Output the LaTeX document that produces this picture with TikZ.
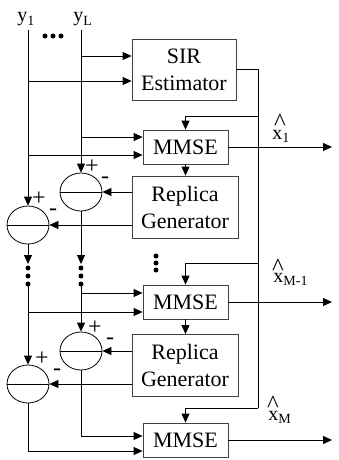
\documentclass[tikz,border=0pt]{standalone}
\usepackage{fontspec}
\setmainfont{Liberation Serif}
\usetikzlibrary{arrows.meta,shapes.geometric}
\begin{document}
\begin{tikzpicture}[x=1pt,y=-1pt,line width=0.8pt,
  box/.style={draw=black!75,rectangle,inner sep=0pt,align=center,font=\fontsize{22}{27}\selectfont},
  sirbox/.style={box,minimum width=104pt,minimum height=61pt},
  mmsebox/.style={box,minimum width=85pt,minimum height=34pt},
  repbox/.style={box,minimum width=106pt,minimum height=62pt},
  adder/.style={draw,ellipse,minimum width=42pt,minimum height=38pt,inner sep=0pt},
  arr/.style={-{Triangle[length=9pt,width=8pt]}},
  dotn/.style={circle,fill,inner sep=0pt,minimum size=5pt},
  lbl/.style={font=\fontsize{20}{20}\selectfont,inner sep=0pt,anchor=base west},
  hatn/.style={font=\fontsize{25}{25}\selectfont,inner sep=0pt},
  sgn/.style={font=\fontsize{24}{24}\selectfont,inner sep=0pt}]
\useasboundingbox (0,0) rectangle (338,460);

% boxes
\node[sirbox] (sir) at (184,69.5) {SIR\\Estimator};
\node[mmsebox] (m1) at (185.5,147) {MMSE};
\node[repbox] (r1) at (185,207) {Replica\\Generator};
\node[mmsebox] (m2) at (185.5,302) {MMSE};
\node[repbox] (r2) at (185,365.5) {Replica\\Generator};
\node[mmsebox] (m3) at (185.5,440) {MMSE};

% adders
\node[adder] (a1) at (81,192) {};
\node[adder] (a2) at (28,225) {};
\node[adder] (a3) at (81,351) {};
\node[adder] (a4) at (28,384) {};
\foreach \a in {a1,a2,a3,a4}{\draw (\a.west) -- (\a.east);}

% signs
\node[sgn] (p1) at (92,167) {+};
\node[sgn] (n1) at (105,180) {-};
\node[sgn] (p2) at (39,199) {+};
\node[sgn] (n2) at (53,212) {-};
\node[sgn] (p3) at (95,328) {+};
\node[sgn] (n3) at (110,341) {-};
\node[sgn] (p4) at (42,359) {+};
\node[sgn] (n4) at (57,372) {-};

% input labels
\node[lbl] (ly1) at (17,22) {y\textsubscript{1}};
\node[lbl] (lyL) at (73,22) {y\textsubscript{L}};
\node[dotn] (td1) at (45,36) {};
\node[dotn] (td2) at (53,36) {};
\node[dotn] (td3) at (61,36) {};

% y1 line
\coordinate (y1t) at (28,30);
\draw[arr] (y1t) -- (a2);
\coordinate (b11) at (28,81);
\coordinate (b12) at (28,155);
\draw[arr] (b11) -- (b11 -| sir.west);
\draw[arr] (b12) -- (b12 -| m1.west);
\coordinate (d1) at (28,264);
\draw[arr] (a2.south) -- (d1);
\node[dotn] (v11) at (28,268) {};
\node[dotn] (v12) at (28,276) {};
\node[dotn] (v13) at (28,284) {};
\coordinate (c1) at (28,286);
\draw[arr] (c1) -- (a4);
\coordinate (b13) at (28,312);
\draw[arr] (b13) -- (b13 -| m2.west);
\coordinate (e1) at (28,451);
\draw[arr] (a4.south) -- (e1) -- (e1 -| m3.west);

% yL line
\coordinate (yLt) at (81,30);
\draw[arr] (yLt) -- (a1);
\coordinate (b21) at (81,56);
\coordinate (b22) at (81,137);
\draw[arr] (b21) -- (b21 -| sir.west);
\draw[arr] (b22) -- (b22 -| m1.west);
\coordinate (d2) at (81,264);
\draw[arr] (a1.south) -- (d2);
\node[dotn] (v21) at (81,268) {};
\node[dotn] (v22) at (81,276) {};
\node[dotn] (v23) at (81,284) {};
\coordinate (c2) at (81,286);
\draw[arr] (c2) -- (a3);
\coordinate (b23) at (81,293);
\draw[arr] (b23) -- (b23 -| m2.west);
\coordinate (e2) at (81,436);
\draw[arr] (a3.south) -- (e2) -- (e2 -| m3.west);

% middle dots
\node[dotn] (md1) at (156,256) {};
\node[dotn] (md2) at (156,263) {};
\node[dotn] (md3) at (156,270) {};

% SIR output bus
\coordinate (t1) at (258,116);
\coordinate (t2) at (258,263);
\coordinate (t3) at (258,408);
\draw (sir.east) -| (t3);
\draw[arr] (t1) -| (m1.north);
\draw[arr] (t2) -| (m2.north);
\draw[arr] (t3) -| (m3.north);

% MMSE -> replica
\draw[arr] (m1.south) -- (m1.south |- r1.north);
\draw[arr] (m2.south) -- (m2.south |- r2.north);

% replica -> adders
\draw[arr] (r1.west |- a1) -- (a1);
\draw[arr] (r1.west |- a2) -- (a2);
\draw[arr] (r2.west |- a3) -- (a3);
\draw[arr] (r2.west |- a4) -- (a4);

% outputs
\coordinate (o1) at (332,147);
\coordinate (o2) at (332,302);
\coordinate (o3) at (332,440);
\draw[arr] (m1.east) -- (o1);
\draw[arr] (m2.east) -- (o2);
\draw[arr] (m3.east) -- (o3);

\node[lbl] (lx1) at (272,139) {x\textsubscript{1}};
\node[lbl] (lx2) at (273,282) {x\textsubscript{M-1}};
\node[lbl] (lx3) at (268,420) {x\textsubscript{M}};
\node[hatn] (h1) at (280,122) {\textasciicircum};
\node[hatn] (h2) at (278,267) {\textasciicircum};
\node[hatn] (h3) at (273,404) {\textasciicircum};
\end{tikzpicture}
\end{document}
